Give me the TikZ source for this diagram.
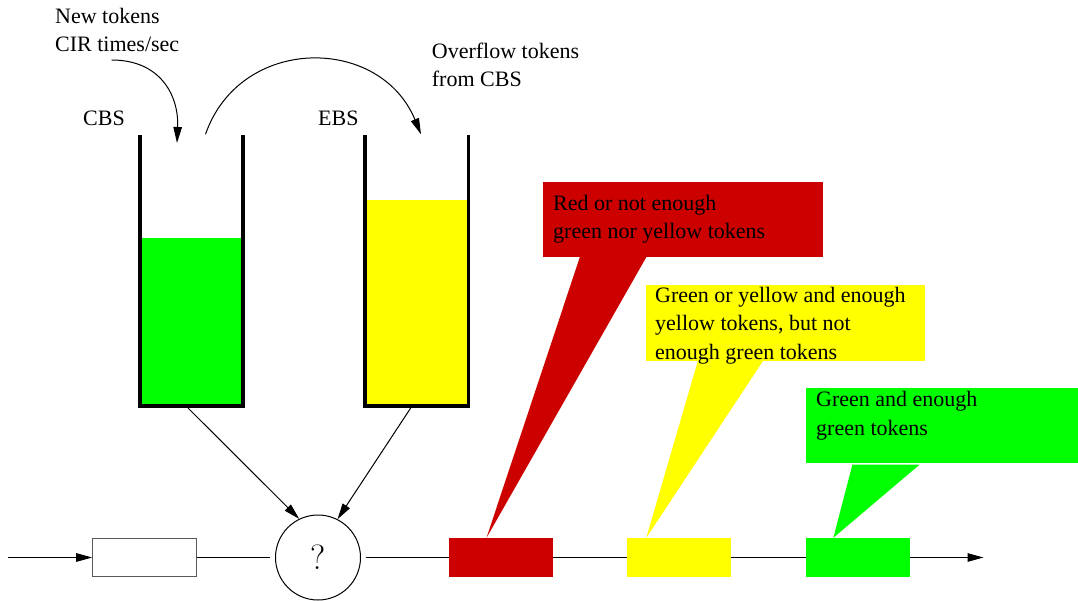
\documentclass[tikz,border=0pt]{standalone}
\usepackage{fontspec}
\setmainfont{Liberation Serif}
\usetikzlibrary{arrows.meta}
\definecolor{dropred}{RGB}{205,0,0}
\definecolor{tokgreen}{RGB}{0,255,0}
\definecolor{tokyellow}{RGB}{255,255,0}

\begin{document}
\begin{tikzpicture}[x=1pt,y=-1pt,
  % multi-line labels are placed by the baseline of their last line
  lbl/.style={anchor=base west, inner sep=0pt, align=left,
    font=\fontsize{22}{28.3}\selectfont},
  thinline/.style={line width=1pt},
  tip/.style={-{Triangle[length=16pt,width=8.5pt]}},
  wall/.style={line width=3.8pt, line join=miter},
  pkt/.style={minimum width=104pt, minimum height=39pt, inner sep=0pt},
  callout/.style={inner sep=0pt, minimum height=75pt}]
\useasboundingbox (0,0) rectangle (1078,601);

% token buckets: committed (CBS) and excess (EBS)
\fill[tokgreen] (140,238) rectangle (243,406.3);
\draw[wall] (140,135) -- (140,406.3) -- (243,406.3) -- (243,135);
\fill[tokyellow] (365.3,200) rectangle (468.5,406.3);
\draw[wall] (365.3,135) -- (365.3,406.3) -- (468.5,406.3) -- (468.5,135);

\node[lbl] (cbslbl) at (83,126) {CBS};
\node[lbl] (ebslbl) at (318,126) {EBS};
\node[lbl] (newtxt) at (55,52) {New tokens\\CIR times/sec};
\node[lbl] (ovftxt) at (431.7,86.7) {Overflow tokens\\from CBS};

% token refill and overflow
\coordinate (cirsrc) at (111.7,60);
\coordinate (cbsin) at (177,143);
\draw[thinline,tip] (cirsrc) .. controls (160,60) and (179,95) .. (cbsin);
\coordinate (ovfsrc) at (205.5,134.3);
\coordinate (ebsin) at (421,134.3);
\draw[thinline,tip] (ovfsrc) .. controls (240,35) and (380,35) .. (ebsin);

% packet stream
\node[draw=black!65, line width=1pt, minimum width=103.3pt, minimum height=37.7pt,
  inner sep=0pt] (inbox) at (144.35,557.5) {};
\node[draw, circle, thinline, minimum size=85pt, inner sep=0pt,
  font=\fontfamily{lmr}\fontsize{35}{35}\selectfont] (q) at (318,557.5) {?};
\node[pkt, fill=dropred] (redpkt) at (501,557.5) {};
\node[pkt, fill=tokyellow] (yelpkt) at (679,557.5) {};
\node[pkt, fill=tokgreen] (grnpkt) at (858,557.5) {};

\coordinate (src) at (8.3,557.5);
\coordinate (sink) at (983.5,557.5);
\draw[thinline,tip] (src) -- (inbox.west);
\draw[thinline, shorten >=5.5pt, shorten <=0.5pt] (inbox.east) -- (q.west);
\draw[thinline, shorten <=4.5pt] (q.east) -- (redpkt.west);
\draw[thinline] (redpkt.east) -- (yelpkt.west);
\draw[thinline] (yelpkt.east) -- (grnpkt.west);
\draw[thinline,tip] (grnpkt.east) -- (sink);

% bucket levels feed the decision
\coordinate (cbsout) at (188,408);
\coordinate (ebsout) at (410.7,408);
\draw[thinline,tip] (cbsout) -- (q.116);
\draw[thinline,tip] (ebsout) -- (q.63);

% callouts
\node[callout, fill=dropred, minimum width=279.6pt] (redbox) at (682.8,219.5) {};
\node[callout, fill=tokyellow, minimum width=279pt, minimum height=76pt] (yelbox) at (785.5,323) {};
\node[callout, fill=tokgreen, minimum width=272pt] (grnbox) at (942,425.5) {};

\fill[dropred] ([xshift=37pt]redbox.south west) -- ([xshift=103.5pt]redbox.south west)
  -- ([xshift=37.7pt]redpkt.north west) -- cycle;
\fill[tokyellow] ([xshift=52pt]yelbox.south west) -- ([xshift=117pt]yelbox.south west)
  -- ([xshift=19.5pt]yelpkt.north west) -- cycle;
\fill[tokgreen] ([xshift=46.6pt,yshift=-1.5pt]grnbox.south west)
  -- ([xshift=113.7pt,yshift=-1.5pt]grnbox.south west)
  -- ([xshift=27.5pt]grnpkt.north west) -- cycle;

\node[lbl] (redtxt) at (553,239) {Red or not enough\\green nor yellow tokens};
\node[lbl] (yeltxt) at (655,359) {Green or yellow and enough\\yellow tokens, but not\\enough green tokens};
\node[lbl] (grntxt) at (816,435) {Green and enough\\green tokens};
\end{tikzpicture}
\end{document}
